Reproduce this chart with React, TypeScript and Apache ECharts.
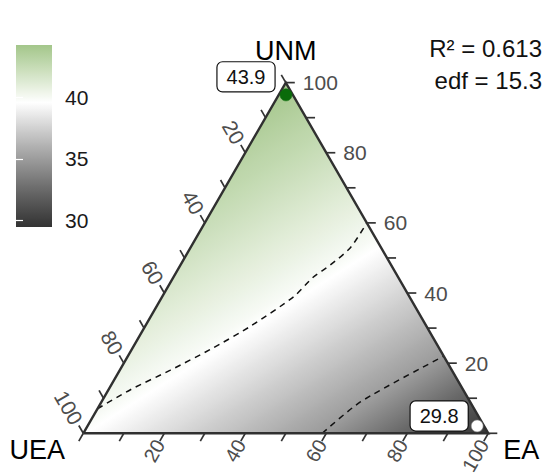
import React, { useEffect, useRef } from "react";
import * as echarts from "echarts";

// ---------- data ----------
// compositions are [UEA, EA, UNM] in percent
const VERTEX_NAMES = ["UEA", "EA", "UNM"];
const TICK_VALUES = [0, 10, 20, 30, 40, 50, 60, 70, 80, 90, 100];
const TICK_LABELS = [20, 40, 60, 80, 100];
const POINT_COMPOSITIONS = [
  [1.7, 1.8, 96.5],
  [1.7, 96.2, 2.1],
];
const POINT_VALUES = [43.9, 29.8];
const POINT_COLORS = ["#0a6b0a", "#ffffff"];
const CONTOUR_40 = [
  [93, 0, 7],
  [82, 5.5, 12.5],
  [69.5, 12.5, 18],
  [56.5, 19.5, 24],
  [43.5, 26, 30.5],
  [28.5, 32.5, 39],
  [21, 34.5, 44.5],
  [15, 37, 48],
  [7.5, 39.5, 53],
  [0, 40, 60],
];
const CONTOUR_35 = [
  [41, 59, 0],
  [27, 64, 9],
  [0, 78, 22],
];
const CONTOUR_LEVELS = [40, 35];
const SURFACE_VERTEX_VALUES = [39.9, 29.5, 44.2]; // UEA, EA, UNM corners
const LEGEND_BREAKS = [30, 35, 40];
const LEGEND_LIMITS = [29.45, 44.3];
const COLOR_VALUES = [29.45, 39.6, 44.3];
const COLOR_HEX = ["#333333", "#ffffff", "#a3c68a"];
const STAT_LINES = ["R² = 0.613", "edf = 15.3"];

// ---------- helpers ----------
const SQ = Math.sqrt(3) / 2;
const FONT = '"Liberation Sans", Arial, sans-serif';
const toXY = (c: number[]) => [(c[1] + c[2] / 2) / 100, (c[2] / 100) * SQ];

function hexToRgb(hex: string) {
  const n = parseInt(hex.slice(1), 16);
  return [(n >> 16) & 255, (n >> 8) & 255, n & 255];
}
const toLin = (c: number) => {
  c /= 255;
  return c <= 0.04045 ? c / 12.92 : Math.pow((c + 0.055) / 1.055, 2.4);
};
const fromLin = (c: number) => {
  const v = c <= 0.0031308 ? 12.92 * c : 1.055 * Math.pow(Math.max(c, 0), 1 / 2.4) - 0.055;
  return Math.max(0, Math.min(255, Math.round(v * 255)));
};
function rgbToLab(rgb: number[]) {
  const [r, g, b] = rgb.map(toLin);
  const X = (0.4124 * r + 0.3576 * g + 0.1805 * b) / 0.95047;
  const Y = 0.2126 * r + 0.7152 * g + 0.0722 * b;
  const Z = (0.0193 * r + 0.1192 * g + 0.9505 * b) / 1.08883;
  const f = (t: number) => (t > 0.008856 ? Math.cbrt(t) : 7.787 * t + 16 / 116);
  const fx = f(X), fy = f(Y), fz = f(Z);
  return [116 * fy - 16, 500 * (fx - fy), 200 * (fy - fz)];
}
function labToRgb(lab: number[]) {
  const [L, a, bb] = lab;
  const fy = (L + 16) / 116, fx = fy + a / 500, fz = fy - bb / 200;
  const inv = (t: number) => (t * t * t > 0.008856 ? t * t * t : (t - 16 / 116) / 7.787);
  const X = inv(fx) * 0.95047, Y = inv(fy), Z = inv(fz) * 1.08883;
  const r = 3.2406 * X - 1.5372 * Y - 0.4986 * Z;
  const g = -0.9689 * X + 1.8758 * Y + 0.0415 * Z;
  const b = 0.0557 * X - 0.204 * Y + 1.057 * Z;
  return `rgb(${fromLin(r)},${fromLin(g)},${fromLin(b)})`;
}
const LABS = COLOR_HEX.map((h) => rgbToLab(hexToRgb(h)));
function colorAt(v: number) {
  const lo = COLOR_VALUES[0], hi = COLOR_VALUES[COLOR_VALUES.length - 1];
  v = Math.max(lo, Math.min(hi, v));
  let i = 0;
  while (i < COLOR_VALUES.length - 2 && v > COLOR_VALUES[i + 1]) i++;
  const t = (v - COLOR_VALUES[i]) / (COLOR_VALUES[i + 1] - COLOR_VALUES[i]);
  const A = LABS[i], B = LABS[i + 1];
  return labToRgb([0, 1, 2].map((k) => A[k] + (B[k] - A[k]) * t));
}

const VERTICES = [
  [100, 0, 0],
  [0, 100, 0],
  [0, 0, 100],
];

function buildOption() {
  const surfaceSeries = {
    type: "custom",
    xAxisIndex: 0,
    yAxisIndex: 0,
    clip: false,
    z: 1,
    data: [[0]],
    renderItem: (_p: any, api: any) => {
      const V = VERTICES.map((c) => api.coord(toXY(c)));
      const c35 = CONTOUR_35.map((c) => api.coord(toXY(c)));
      const c40 = CONTOUR_40.map((c) => api.coord(toXY(c)));
      const a = c35[0], b = c35[c35.length - 1];
      const len = Math.hypot(b[0] - a[0], b[1] - a[1]);
      let n = [-(b[1] - a[1]) / len, (b[0] - a[0]) / len];
      if ((V[1][0] - V[2][0]) * n[0] + (V[1][1] - V[2][1]) * n[1] < 0) n = [-n[0], -n[1]];
      const proj = (p: number[]) => p[0] * n[0] + p[1] * n[1];
      const mean = (arr: number[]) => arr.reduce((s, x) => s + x, 0) / arr.length;
      const P = [proj(V[2]), mean(c40.map(proj)), mean(c35.map(proj)), proj(V[1])];
      const VV = [SURFACE_VERTEX_VALUES[2], CONTOUR_LEVELS[0], CONTOUR_LEVELS[1], SURFACE_VERTEX_VALUES[1]];
      const stops: any[] = [];
      for (let v = VV[0]; v >= VV[3] - 1e-9; v -= 0.2) {
        let j = 0;
        while (j < 2 && v < VV[j + 1]) j++;
        const t = (VV[j] - v) / (VV[j] - VV[j + 1]);
        const p = P[j] + (P[j + 1] - P[j]) * t;
        stops.push({ offset: Math.max(0, Math.min(1, (p - P[0]) / (P[3] - P[0]))), color: colorAt(v) });
      }
      const D = P[3] - P[0];
      const grad = new echarts.graphic.LinearGradient(
        V[2][0], V[2][1], V[2][0] + n[0] * D, V[2][1] + n[1] * D, stops, true
      );
      return { type: "polygon", shape: { points: V }, style: { fill: grad } };
    },
  };

  const contourSeries = [CONTOUR_40, CONTOUR_35].map((cont) => ({
    type: "line",
    xAxisIndex: 0,
    yAxisIndex: 0,
    clip: false,
    z: 3,
    symbol: "none",
    smooth: 0.25,
    data: cont.map(toXY),
    lineStyle: { color: "#111", width: 1.5, type: [6, 5] },
  }));

  const edgeSeries = {
    type: "line",
    xAxisIndex: 0,
    yAxisIndex: 0,
    clip: false,
    z: 4,
    symbol: "none",
    data: [...VERTICES, VERTICES[0]].map(toXY),
    lineStyle: { color: "#303030", width: 2.4, join: "miter" },
  };

  const tickData: number[][] = [];
  for (let k = 0; k < 3; k++) TICK_VALUES.forEach((v) => tickData.push([k, v]));

  const tickSeries = {
    type: "custom",
    xAxisIndex: 0,
    yAxisIndex: 0,
    clip: false,
    z: 5,
    data: tickData,
    renderItem: (_p: any, api: any) => {
      const k = api.value(0), v = api.value(1);
      const V = VERTICES.map((c) => api.coord(toXY(c)));
      const unit = (p: number[], q: number[]) => {
        const l = Math.hypot(q[0] - p[0], q[1] - p[1]);
        return [(q[0] - p[0]) / l, (q[1] - p[1]) / l];
      };
      let comp: number[], dir: number[], rot = 0, align = "right";
      if (k === 0) {
        comp = [100 - v, v, 0];
        dir = unit(V[2], V[0]);
        rot = Math.PI / 3;
      } else if (k === 1) {
        comp = [0, 100 - v, v];
        dir = unit(V[0], V[1]);
        align = "left";
      } else {
        comp = [v, 0, 100 - v];
        dir = unit(V[1], V[2]);
        rot = -Math.PI / 3;
      }
      const s = api.coord(toXY(comp));
      const tl = 9;
      const children: any[] = [
        {
          type: "line",
          shape: { x1: s[0], y1: s[1], x2: s[0] + dir[0] * tl, y2: s[1] + dir[1] * tl },
          style: { stroke: "#333", lineWidth: 1.7 },
        },
      ];
      if (TICK_LABELS.indexOf(v) >= 0) {
        const gap = k === 1 ? 8 : k === 0 ? 0 : 3;
        children.push({
          type: "text",
          x: s[0] + dir[0] * (tl + gap),
          y: s[1] + dir[1] * (tl + gap),
          rotation: rot,
          style: {
            text: String(v),
            fill: "#4d4d4d",
            font: `${k === 0 ? 20 : 21}px ${FONT}`,
            align,
            verticalAlign: "middle",
            textAlign: align,
            textVerticalAlign: "middle",
          },
        });
      }
      return { type: "group", children };
    },
  };

  const TITLE_OFFSETS = [
    [-46, 17],
    [33, 17],
    [0, -32],
  ];
  const titleSeries = {
    type: "custom",
    xAxisIndex: 0,
    yAxisIndex: 0,
    clip: false,
    z: 5,
    data: [[0], [1], [2]],
    renderItem: (_p: any, api: any) => {
      const k = api.value(0);
      const s = api.coord(toXY(VERTICES[k]));
      return {
        type: "text",
        x: s[0] + TITLE_OFFSETS[k][0],
        y: s[1] + TITLE_OFFSETS[k][1],
        style: {
          text: VERTEX_NAMES[k],
          fill: "#000",
          font: `27px ${FONT}`,
          align: "center",
          verticalAlign: "middle",
          textAlign: "center",
          textVerticalAlign: "middle",
        },
      };
    },
  };

  const LABEL_OFFSETS = [
    [-40, -18],
    [-38, -10],
  ];
  const pointSeries = {
    type: "scatter",
    xAxisIndex: 0,
    yAxisIndex: 0,
    clip: false,
    z: 6,
    symbolSize: 12,
    itemStyle: { opacity: 1 },
    data: POINT_COMPOSITIONS.map((c, i) => ({
      value: [...toXY(c), POINT_VALUES[i]],
      itemStyle: {
        color: POINT_COLORS[i],
        borderColor: i === 1 ? "#777" : POINT_COLORS[i],
        borderWidth: 0.6,
        opacity: 1,
      },
      label: {
        show: true,
        position: "inside",
        offset: LABEL_OFFSETS[i],
        formatter: (p: any) => p.value[2].toFixed(1),
        backgroundColor: "#ffffff",
        borderColor: "#111",
        borderWidth: 1.2,
        borderRadius: 5,
        padding: [5, 9, 4, 9],
        color: "#111",
        fontSize: 20,
        fontFamily: FONT,
        opacity: 1,
      },
    })),
  };

  const legendSeries = {
    type: "custom",
    xAxisIndex: 1,
    yAxisIndex: 1,
    clip: false,
    z: 1,
    data: [[0]],
    renderItem: (_p: any, api: any) => {
      const p0 = api.coord([0, LEGEND_LIMITS[1]]);
      const p1 = api.coord([1, LEGEND_LIMITS[0]]);
      const stops: any[] = [];
      const N = 60;
      for (let i = 0; i <= N; i++) {
        const v = LEGEND_LIMITS[1] - ((LEGEND_LIMITS[1] - LEGEND_LIMITS[0]) * i) / N;
        stops.push({ offset: i / N, color: colorAt(v) });
      }
      return {
        type: "rect",
        shape: { x: p0[0], y: p0[1], width: p1[0] - p0[0], height: p1[1] - p0[1] },
        style: { fill: new echarts.graphic.LinearGradient(0, 0, 0, 1, stops) },
      };
    },
  };

  const legendAxisBase = {
    gridIndex: 1,
    type: "value",
    min: LEGEND_LIMITS[0],
    max: LEGEND_LIMITS[1],
    z: 5,
    axisLine: { show: false },
    splitLine: { show: false },
    axisTick: {
      show: true,
      inside: true,
      length: 7,
      lineStyle: { color: "#fff", width: 1.2 },
      customValues: LEGEND_BREAKS,
    },
  };

  return {
    animation: false,
    backgroundColor: "#fff",
    grid: [
      { left: 83.3, top: 82.6, width: 405, height: 350.7 },
      { left: 16, top: 45, width: 36, height: 182 },
    ],
    xAxis: [
      { gridIndex: 0, type: "value", min: 0, max: 1, show: false },
      { gridIndex: 1, type: "value", min: 0, max: 1, show: false },
    ],
    yAxis: [
      { gridIndex: 0, type: "value", min: 0, max: SQ, show: false },
      {
        ...legendAxisBase,
        position: "right",
        axisLabel: {
          show: true,
          customValues: LEGEND_BREAKS,
          margin: 13,
          fontSize: 21,
          fontFamily: FONT,
          color: "#1a1a1a",
        },
      },
      {
        ...legendAxisBase,
        position: "left",
        axisLabel: { show: false },
      },
    ],
    graphic: STAT_LINES.map((t, i) => ({
      type: "text",
      x: 542,
      y: 48 + i * 32,
      style: {
        text: t,
        fill: "#111",
        font: `24px ${FONT}`,
        align: "right",
        verticalAlign: "middle",
        textAlign: "right",
        textVerticalAlign: "middle",
      },
    })),
    series: [
      surfaceSeries,
      ...contourSeries,
      edgeSeries,
      tickSeries,
      titleSeries,
      pointSeries,
      legendSeries,
    ],
  };
}

export default function App() {
  const ref = useRef<HTMLDivElement>(null);
  useEffect(() => {
    const chart = echarts.init(ref.current!, null, { renderer: "svg" });
    chart.setOption(buildOption() as any);
    return () => chart.dispose();
  }, []);
  return (
    <div
      ref={ref}
      style={{ position: "fixed", left: 0, top: 0, width: 546, height: 476 }}
    />
  );
}
